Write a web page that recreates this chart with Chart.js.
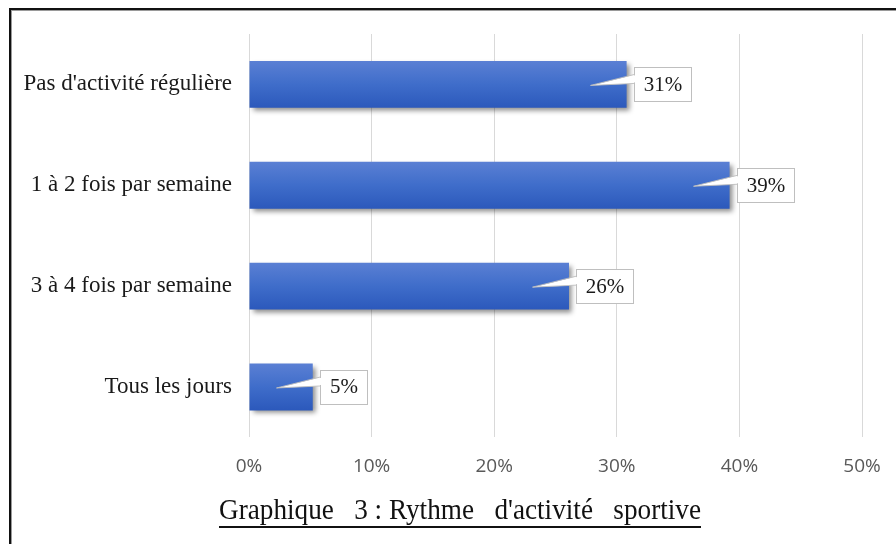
<!DOCTYPE html>
<html>
<head>
<meta charset="utf-8">
<script src="https://cdn.jsdelivr.net/npm/chart.js@4"></script>
<style>
  html, body { margin: 0; padding: 0; background: #fff; }
  #wrap { position: relative; width: 896px; height: 544px; overflow: hidden; background: #fff; }
  #frame { position: absolute; left: 9px; top: 8px; width: 940px; height: 600px;
           border: 2px solid #111; box-shadow: inset 1px 1px 0 0 #9a9a9a; }
  #c { position: absolute; left: 0; top: 0; }
  #title { position: absolute; left: 219px; top: 494px; white-space: pre;
           font-family: "Liberation Serif", "Times New Roman", serif; font-size: 29px; line-height: 30px;
           color: #111; text-decoration: underline; text-decoration-thickness: 1.5px; text-underline-offset: 7px;
           text-decoration-skip-ink: none; transform-origin: 0 0; }
</style>
</head>
<body>
<div id="wrap">
  <div id="frame"></div>
  <canvas id="c" width="896" height="544"></canvas>
  <div id="title">Graphique   3 : Rythme   d'activité   sportive</div>
</div>
<script>
const categories = ["Pas d'activité régulière", "1 à 2 fois par semaine", "3 à 4 fois par semaine", "Tous les jours"];
const values = [30.8, 39.2, 26.1, 5.2];
const valueLabels = ["31%", "39%", "26%", "5%"];
const tickValues = [0, 10, 20, 30, 40, 50];

// fit title width to reference
(function(){
  const t = document.getElementById('title');
  const w = t.getBoundingClientRect().width;
  t.style.transform = 'scaleX(' + (482 / w) + ')';
})();

const shadowPlugin = {
  id: 'barShadow',
  beforeDatasetDraw(chart) {
    const ctx = chart.ctx;
    ctx.save();
    ctx.shadowColor = 'rgba(0,0,0,0.45)';
    ctx.shadowBlur = 5;
    ctx.shadowOffsetX = 3;
    ctx.shadowOffsetY = 3;
  },
  afterDatasetDraw(chart) { chart.ctx.restore(); }
};

const calloutPlugin = {
  id: 'callouts',
  afterDatasetsDraw(chart) {
    const ctx = chart.ctx;
    const meta = chart.getDatasetMeta(0);
    ctx.save();
    ctx.font = '21px "Liberation Serif", "Times New Roman", serif';
    meta.data.forEach((bar, i) => {
      const txt = valueLabels[i];
      const tw = ctx.measureText(txt).width;
      const bw = Math.round(tw + 19), bh = 34;
      const bx = Math.round(bar.x + 7) + 0.5;
      const by = Math.round(bar.y - bh / 2) + 0.5;
      const cy = bar.y;
      // tail
      const tipX = bx - 44, tipY = cy + 1;
      ctx.beginPath();
      ctx.moveTo(bx + 1, cy - 10);
      ctx.lineTo(tipX, tipY);
      ctx.lineTo(bx + 1, cy - 1);
      ctx.closePath();
      ctx.fillStyle = '#ffffff';
      ctx.fill();
      ctx.beginPath();
      ctx.moveTo(bx, cy - 10);
      ctx.lineTo(tipX, tipY);
      ctx.lineTo(bx, cy - 1);
      ctx.strokeStyle = 'rgba(190,190,190,0.9)';
      ctx.lineWidth = 1;
      ctx.stroke();
      // box
      ctx.fillStyle = '#ffffff';
      ctx.fillRect(bx, by, bw, bh);
      ctx.strokeStyle = '#bfbfbf';
      ctx.strokeRect(bx, by, bw, bh);
      // cover joint
      ctx.fillStyle = '#ffffff';
      ctx.fillRect(bx - 0.5, cy - 9, 2, 7);
      ctx.fillStyle = '#1a1a1a';
      ctx.textAlign = 'center';
      ctx.textBaseline = 'middle';
      ctx.fillText(txt, bx + bw / 2, cy + 1);
    });
    ctx.restore();
  }
};

function barGradient(context) {
  const chart = context.chart;
  const ys = chart.scales && chart.scales.y;
  if (!ys || context.dataIndex === undefined) return '#4472c4';
  const c = ys.getPixelForValue(context.dataIndex);
  if (!isFinite(c)) return '#4472c4';
  const g = chart.ctx.createLinearGradient(0, c - 24, 0, c + 24);
  g.addColorStop(0, '#5b80d4');
  g.addColorStop(0.5, '#3f6dca');
  g.addColorStop(1, '#2b58bb');
  return g;
}

new Chart(document.getElementById('c'), {
  type: 'bar',
  data: {
    labels: categories,
    datasets: [{
      data: values,
      backgroundColor: barGradient,
      borderWidth: 0,
      barPercentage: 0.465,
      categoryPercentage: 1.0
    }]
  },
  options: {
    indexAxis: 'y',
    responsive: false,
    animation: false,
    events: [],
    layout: { padding: { top: 34, right: 34, left: 0, bottom: 0 } },
    plugins: { legend: { display: false }, tooltip: { enabled: false }, title: { display: false } },
    scales: {
      x: {
        min: 0, max: 50,
        afterBuildTicks(s) { s.ticks = tickValues.map(v => ({ value: v })); },
        afterFit(s) { s.height = 106.6; s.paddingLeft = 0; s.paddingRight = 0; },
        grid: { color: '#d9d9d9', lineWidth: 1, drawTicks: false },
        border: { display: false },
        ticks: {
          padding: 18,
          color: '#595959',
          font: { family: '"Open Sans", "DejaVu Sans", sans-serif', size: 19 },
          callback: v => v + '%'
        }
      },
      y: {
        afterFit(s) { s.width = 249; },
        grid: { display: false, drawTicks: false },
        border: { display: false },
        ticks: {
          padding: 17,
          color: '#1a1a1a',
          font: { family: '"Liberation Serif", "Times New Roman", serif', size: 23 }
        }
      }
    }
  },
  plugins: [shadowPlugin, calloutPlugin]
});
</script>
</body>
</html>
